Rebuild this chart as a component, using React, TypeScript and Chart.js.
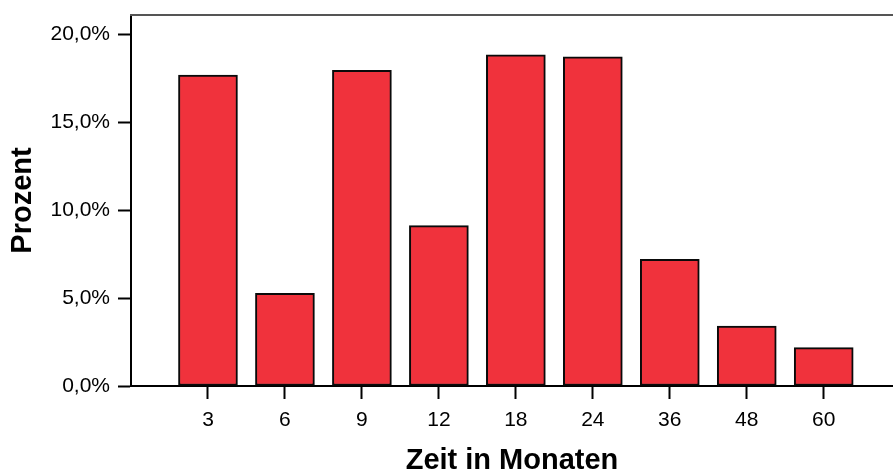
import React, { useEffect, useRef } from "react";
import { Chart, registerables } from "chart.js";

Chart.register(...registerables);

const categories: string[] = ["3", "6", "9", "12", "18", "24", "36", "48", "60"];
const percentValues: number[] = [17.67, 5.27, 17.94, 9.11, 18.81, 18.71, 7.2, 3.41, 2.18];
const yTickValues: number[] = [0, 5, 10, 15, 20];
const yAxisTitle = "Prozent";
const xAxisTitle = "Zeit in Monaten";

const FONT = "'Liberation Sans', Arial, Helvetica, sans-serif";

const topBorderPlugin = {
  id: "topBorder",
  afterDraw(chart: any) {
    const { ctx, chartArea } = chart;
    ctx.save();
    ctx.strokeStyle = "#555555";
    ctx.lineWidth = 2;
    ctx.beginPath();
    ctx.moveTo(chartArea.left - 1, chartArea.top);
    ctx.lineTo(chartArea.right, chartArea.top);
    ctx.stroke();
    ctx.restore();
  },
};

export default function App() {
  const canvasRef = useRef<HTMLCanvasElement | null>(null);

  useEffect(() => {
    const canvas = canvasRef.current;
    if (!canvas) return;
    const points = categories.map((_, i) => ({ x: i + 1, y: percentValues[i] }));
    const chart = new Chart(canvas, {
      type: "bar",
      data: {
        datasets: [
          {
            data: points as any,
            backgroundColor: "#f0323c",
            borderColor: "#0a0a0a",
            borderWidth: 2,
            borderSkipped: false,
            barThickness: 59,
          },
        ],
      },
      options: {
        responsive: false,
        animation: false,
        devicePixelRatio: 1,
        layout: { padding: { top: 15, right: 0, bottom: 0, left: 0 } },
        plugins: {
          legend: { display: false },
          tooltip: { enabled: false },
        },
        scales: {
          x: {
            type: "linear",
            offset: false,
            min: 0,
            max: 9.9,
            afterFit: (s: any) => {
              s.height = 94;
              s.paddingLeft = 0;
              s.paddingRight = 0;
            },
            afterBuildTicks: (s: any) => {
              s.ticks = categories.map((_, i) => ({ value: i + 1 }));
            },
            grid: {
              display: true,
              offset: false,
              drawOnChartArea: false,
              drawTicks: true,
              tickLength: 13,
              tickWidth: 2,
              tickColor: "#000000",
            },
            border: { display: true, color: "#000000", width: 2 },
            ticks: {
              autoSkip: false,
              maxRotation: 0,
              padding: 9,
              color: "#000000",
              font: { family: FONT, size: 21 },
              callback: (v: any) => categories[Math.round(Number(v)) - 1] ?? "",
            },
            title: {
              display: true,
              text: xAxisTitle,
              color: "#000000",
              font: { family: FONT, size: 29, weight: "bold" },
              padding: { top: 0, bottom: 2 },
            },
          },
          y: {
            type: "linear",
            min: 0,
            max: 21.08,
            afterFit: (s: any) => {
              s.width = 131;
              s.paddingTop = 0;
              s.paddingBottom = 0;
            },
            afterBuildTicks: (s: any) => {
              s.ticks = yTickValues.map((v) => ({ value: v }));
            },
            grid: {
              display: true,
              drawOnChartArea: false,
              drawTicks: true,
              tickLength: 13,
              tickWidth: 2,
              tickColor: "#000000",
            },
            border: { display: true, color: "#000000", width: 2 },
            ticks: {
              padding: 8,
              color: "#000000",
              font: { family: FONT, size: 21 },
              callback: (v: any) => Number(v).toFixed(1).replace(".", ",") + "%",
            },
            title: {
              display: true,
              text: yAxisTitle,
              color: "#000000",
              font: { family: FONT, size: 29, weight: "bold" },
              padding: { top: 6, bottom: 0 },
            },
          },
        },
      },
      plugins: [topBorderPlugin],
    });
    return () => chart.destroy();
  }, []);

  return (
    <div
      style={{
        position: "fixed",
        left: 0,
        top: 0,
        width: 893,
        height: 470,
        overflow: "hidden",
        background: "#ffffff",
      }}
    >
      <canvas ref={canvasRef} width={893} height={480} style={{ display: "block" }} />
    </div>
  );
}
